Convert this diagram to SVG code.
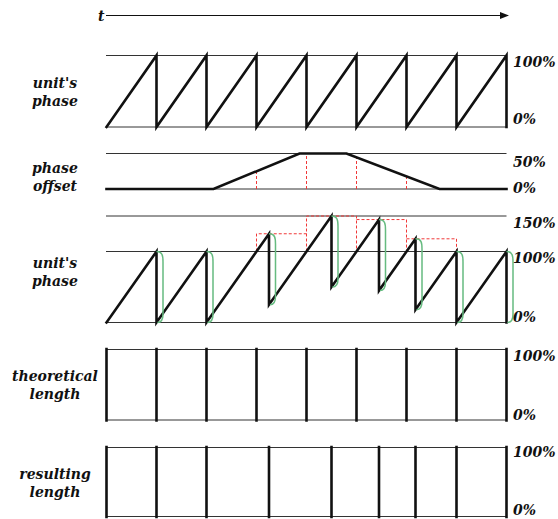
<svg xmlns="http://www.w3.org/2000/svg" width="558" height="519" viewBox="0 0 558 519">
<style>
.bg{fill:#fff}
.thin{stroke:#333;stroke-width:1;fill:none}
.thick{stroke:#111;stroke-width:2.6;fill:none;stroke-linejoin:miter;stroke-linecap:square}
.red{stroke:#f03838;stroke-width:1;stroke-dasharray:3 2;fill:none}
.green{stroke:#66bb80;stroke-width:1.5;fill:none}
.lbl{font-family:"DejaVu Serif",serif;font-weight:bold;font-style:italic;font-size:14px;fill:#111}
.lft{text-anchor:middle}
</style>
<defs>
<marker id="arr" markerWidth="9" markerHeight="7" refX="8" refY="3.5" orient="auto" markerUnits="userSpaceOnUse">
<path d="M0,0 L9,3.5 L0,7 Z" fill="#111"/>
</marker>
</defs>
<rect class="bg" x="0" y="0" width="558" height="519"/>

<g id="time-axis">
<line x1="106" y1="15.5" x2="508" y2="15.5" stroke="#111" stroke-width="1.2" marker-end="url(#arr)"/>
<text class="lbl" x="98" y="21" font-size="15">t</text>
</g>

<g id="panel-unit-phase">
<text class="lbl lft" x="55" y="88">unit's</text>
<text class="lbl lft" x="55" y="106">phase</text>
<line class="thin" x1="106" y1="55.5" x2="506.5" y2="55.5"/>
<line class="thin" x1="106" y1="127" x2="506.5" y2="127" stroke="#666"/>
<polyline class="thick" points="106.5,127 156.5,55.5 156.5,127 206.5,55.5 206.5,127 256.5,55.5 256.5,127 306.5,55.5 306.5,127 356.5,55.5 356.5,127 406.5,55.5 406.5,127 456.5,55.5 456.5,127 506.5,55.5 506.5,127"/>
<text class="lbl" x="513" y="67">100%</text>
<text class="lbl" x="513" y="124">0%</text>
</g>

<g id="panel-phase-offset">
<text class="lbl lft" x="55" y="173">phase</text>
<text class="lbl lft" x="55" y="191">offset</text>
<line class="thin" x1="106" y1="153.5" x2="506.5" y2="153.5"/>
<line class="thin" x1="106" y1="189" x2="506.5" y2="189" stroke="#666"/>
<path class="red" d="M256.5,189 V171.3 M306.5,189 V153.5 M356.5,189 V157.3 M406.5,189 V176.4"/>
<polyline class="thick" stroke-width="3" stroke-linecap="butt" points="106.5,189 213.5,189 299.5,153.5 346.5,153.5 439.5,189 506.5,189"/>
<text class="lbl" x="513" y="167">50%</text>
<text class="lbl" x="513" y="193">0%</text>
</g>

<g id="panel-unit-phase-offset">
<text class="lbl lft" x="55" y="268">unit's</text>
<text class="lbl lft" x="55" y="286">phase</text>
<line class="thin" x1="106" y1="216" x2="506.5" y2="216"/>
<line class="thin" x1="106" y1="251.5" x2="506.5" y2="251.5"/>
<line class="thin" x1="106" y1="322.5" x2="506.5" y2="322.5" stroke="#666"/>
<path class="red" d="M256.5,251.5 V233.75 H306.5 M306.5,251.5 V216 H356.5 V251.5 M356.5,219.55 H406.5 V251.5 M406.5,238.8 H456.5 V251.5"/>
<polyline class="thick" points="106.5,322.5 156.5,251.5 156.5,322.5 206.5,251.5 206.5,322.5 269,233.75 269,304.75 331.5,216 331.5,287 379,219.55 379,290.55 415.5,238.8 415.5,309.7 456.5,251.5 456.5,322.5 506.5,251.5 506.5,322.5"/>
<path class="green" d="M156.5,251.5 C162.5,251.5 163,256 163,262 L163,314 Q163,322.5 157.5,322.5
M206.5,251.5 C212.5,251.5 213,256 213,262 L213,314 Q213,322.5 207.5,322.5
M269,233.75 C275,233.75 275.5,238 275.5,244 L275.5,296 Q275.5,304.75 270,304.75
M331.5,216 C337.5,216 338,220.5 338,226.5 L338,278.5 Q338,287 332.5,287
M379,219.55 C385,219.55 385.5,224 385.5,230 L385.5,282 Q385.5,290.55 380,290.55
M415.5,238.8 C421.5,238.8 422,243 422,249 L422,301 Q422,309.7 416.5,309.7
M456.5,251.5 C462.5,251.5 463,256 463,262 L463,314 Q463,322.5 457.5,322.5
M506.5,251.5 C512.5,251.5 513,256 513,262 L513,314 Q513,322.5 507.5,322.5"/>
<text class="lbl" x="513" y="228">150%</text>
<text class="lbl" x="513" y="263">100%</text>
<text class="lbl" x="513" y="322">0%</text>
</g>

<g id="panel-theoretical-length">
<text class="lbl lft" x="55" y="381">theoretical</text>
<text class="lbl lft" x="55" y="399">length</text>
<line class="thin" x1="106" y1="349.5" x2="506.5" y2="349.5" stroke="#666"/>
<line class="thin" x1="106" y1="420" x2="506.5" y2="420"/>
<path class="thick" stroke-linecap="butt" d="M106.5,349 V420.5 M156.5,349 V420.5 M206.5,349 V420.5 M256.5,349 V420.5 M306.5,349 V420.5 M356.5,349 V420.5 M406.5,349 V420.5 M456.5,349 V420.5 M506.5,349 V420.5"/>
<text class="lbl" x="513" y="361">100%</text>
<text class="lbl" x="513" y="420">0%</text>
</g>

<g id="panel-resulting-length">
<text class="lbl lft" x="55" y="479">resulting</text>
<text class="lbl lft" x="55" y="497">length</text>
<line class="thin" x1="106" y1="447.5" x2="506.5" y2="447.5" stroke="#666"/>
<line class="thin" x1="106" y1="516.5" x2="506.5" y2="516.5"/>
<path class="thick" stroke-linecap="butt" d="M106.5,447 V517 M156.5,447 V517 M206.5,447 V517 M269,447 V517 M331.5,447 V517 M379,447 V517 M415.5,447 V517 M456.5,447 V517 M506.5,447 V517"/>
<text class="lbl" x="513" y="457">100%</text>
<text class="lbl" x="513" y="515">0%</text>
</g>
</svg>
